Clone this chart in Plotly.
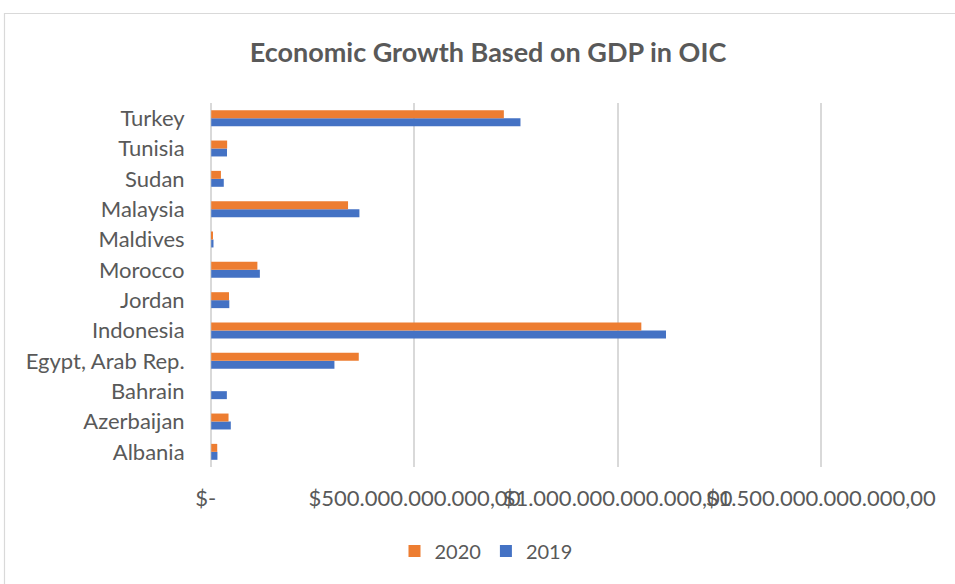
import plotly.graph_objects as go

countries = ["Albania", "Azerbaijan", "Bahrain", "Egypt, Arab Rep.", "Indonesia", "Jordan",
             "Morocco", "Maldives", "Malaysia", "Sudan", "Tunisia", "Turkey"]
gdp_2019 = [15.3e9, 48.2e9, 38.5e9, 303.2e9, 1119.1e9, 44.5e9,
            119.7e9, 5.6e9, 364.7e9, 30.9e9, 38.8e9, 761.0e9]
gdp_2020 = [14.8e9, 42.6e9, None, 363.1e9, 1058.4e9, 43.7e9,
            113.6e9, 3.7e9, 336.7e9, 23.9e9, 39.2e9, 720.1e9]
tick_vals = [0, 500e9, 1000e9, 1500e9]
tick_text = ["$-\u00a0\u00a0", "$500.000.000.000,00", "$1.000.000.000.000,00", "$1.500.000.000.000,00"]

W, H = 955, 584
ML, MR, MT, MB = 210, 133, 103, 117
PW, PH = W - ML - MR, H - MT - MB
FONT = "Lato"
GREY = "#595959"
PAD = 3e9

fig = go.Figure()
fig.add_trace(go.Bar(y=countries, x=gdp_2019, orientation="h", name="2019",
                     marker=dict(color="#4472C4", line=dict(width=0))))
fig.add_trace(go.Bar(y=countries, x=gdp_2020, orientation="h", name="2020",
                     marker=dict(color="#ED7D31", line=dict(width=0))))

def px_x(p):
    return (p - ML) / PW

def px_y(p):
    return (H - MB - p) / PH

fig.update_layout(
    width=W, height=H,
    margin=dict(l=ML, r=MR, t=MT, b=MB),
    paper_bgcolor="white", plot_bgcolor="white",
    barmode="group", bargap=0.475, bargroupgap=0,
    font=dict(family=FONT, color=GREY, size=22),
    title=dict(text="<b>Economic Growth Based on GDP in OIC</b>",
               font=dict(family=FONT, size=27, color=GREY),
               x=488 / W, xanchor="center", xref="container",
               y=1 - 53 / H, yanchor="middle", yref="container"),
    xaxis=dict(range=[-PAD, 1.5e12 + PAD], tickvals=tick_vals, ticktext=tick_text, tickangle=0,
               showgrid=True, gridcolor="#d9d9d9", gridwidth=1.5,
               zeroline=False, showline=False,
               ticks="outside", ticklen=12, tickcolor="rgba(0,0,0,0)",
               tickfont=dict(family=FONT, size=22, color=GREY)),
    yaxis=dict(showgrid=False, zeroline=False, showline=False,
               ticks="outside", ticklen=20, tickcolor="rgba(0,0,0,0)",
               tickfont=dict(family=FONT, size=22, color=GREY)),
    legend=dict(orientation="h", traceorder="reversed",
                x=px_x(486), xanchor="center", y=px_y(551), yanchor="middle",
                font=dict(family=FONT, size=20, color=GREY),
                itemwidth=30, bgcolor="rgba(0,0,0,0)"),
    showlegend=True,
    shapes=[dict(type="rect", xref="paper", yref="paper",
                 x0=px_x(4.5), x1=px_x(1200), y0=px_y(900), y1=px_y(13.5),
                 line=dict(color="#d9d9d9", width=1.2), fillcolor="rgba(0,0,0,0)",
                 layer="below")],
)

fig.write_html("out.html")
